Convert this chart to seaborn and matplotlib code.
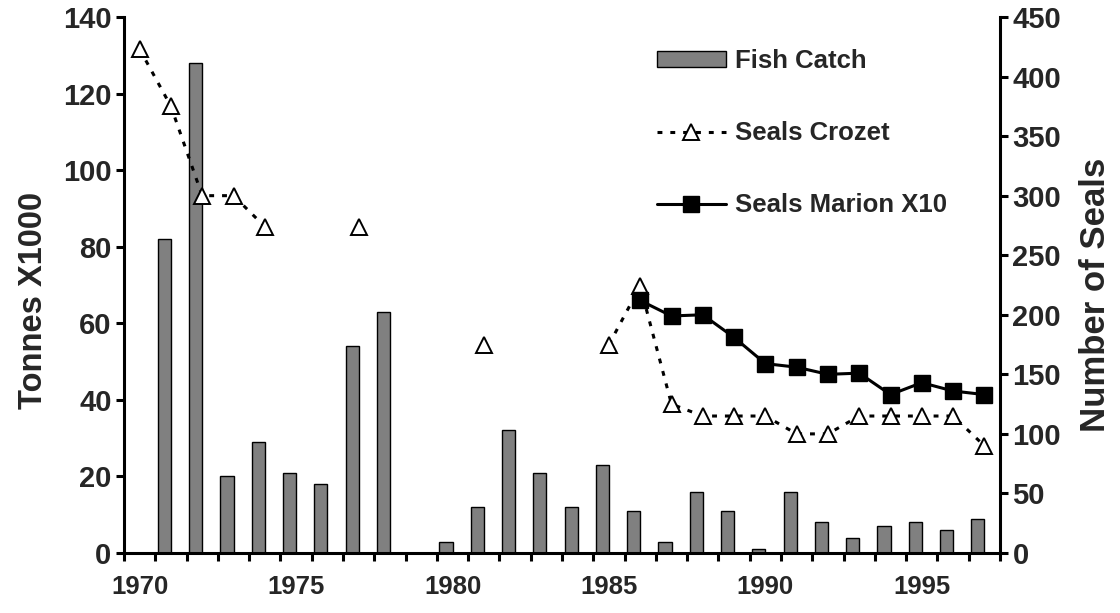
import numpy as np
import pandas as pd
import matplotlib
matplotlib.use("Agg")
import matplotlib.pyplot as plt
import seaborn as sns
from matplotlib.patches import Patch
from matplotlib.lines import Line2D

nan = np.nan

# ---- data ----
years = list(range(1970, 1998))
fish_catch = [nan, 82, 128, 20, 29, 21, 18, 54, 63, nan, 3, 12, 32, 21, 12, 23,
              11, 3, 16, 11, 1, 16, 8, 4, 7, 8, 6, 9]
seals_crozet = [423, 375, 300, 300, 274, nan, nan, 274, nan, nan, nan, 175, nan, nan,
                nan, 175, 224, 125, 115, 115, 115, 100, 100, 115, 115, 115, 115, 90]
seals_marion_x10 = [nan] * 16 + [212, 199, 200, 181, 159, 156, 150, 151, 133, 143, 136, 133]
label_years = [1970, 1975, 1980, 1985, 1990, 1995]

sns.set_theme(style="white")
plt.rcParams["font.family"] = ["Liberation Sans", "DejaVu Sans"]
plt.rcParams["font.weight"] = "bold"

fig = plt.figure(figsize=(11.2, 6.13), dpi=100)
ax = fig.add_axes([124 / 1120, 60 / 613, 876 / 1120, 536 / 613])
ax2 = ax.twinx()

xtick_fs = 18.5
ytick_fs = 21
leg_fs = 18.5

# ---- bars (left axis) ----
bar_df = pd.DataFrame({"year": years, "catch": fish_catch}).dropna()
bar_w = 0.42
sns.barplot(data=bar_df, x="year", y="catch", native_scale=True, width=bar_w,
            color="#808080", saturation=1, edgecolor="black", linewidth=1.0,
            errorbar=None, ax=ax)
for p in ax.patches:
    p.set_x(p.get_x() - bar_w / 2)

# ---- lines (right axis) ----
dash = (0, (1.6, 2.6))
cro = pd.DataFrame({"year": years, "v": seals_crozet})
cro["seg"] = cro["v"].isna().cumsum()
cro = cro.dropna()
sns.lineplot(data=cro, x="year", y="v", units="seg", estimator=None, sort=False,
             color="black", linewidth=2.2, linestyle=dash, marker="^",
             markersize=12, markerfacecolor="white", markeredgecolor="black",
             markeredgewidth=1.4, legend=False, ax=ax2)
mar = pd.DataFrame({"year": years, "v": seals_marion_x10}).dropna()
sns.lineplot(data=mar, x="year", y="v", estimator=None, sort=False,
             color="black", linewidth=2.2, marker="s", markersize=11,
             markerfacecolor="black", markeredgecolor="black",
             markeredgewidth=1, legend=False, ax=ax2)

# ---- axes styling ----
ax.set_xlim(1969.5, 1997.5)
ax.set_ylim(0, 140)
ax2.set_ylim(0, 450)
ax.set_yticks(range(0, 141, 20))
ax2.set_yticks(range(0, 451, 50))
ax.set_xticks(label_years)
ax.set_xticks(np.arange(1969.5, 1998, 1), minor=True)
ax.set_xticklabels([str(y) for y in label_years])

for a in (ax, ax2):
    a.grid(False)
    a.spines["top"].set_visible(False)
    for s in a.spines.values():
        s.set_color("black")
        s.set_linewidth(2.2)
ax.spines["right"].set_visible(False)
ax2.spines["left"].set_visible(False)
ax2.spines["bottom"].set_visible(False)

ax.tick_params(axis="y", which="major", direction="out", length=6, width=2.2,
               labelsize=ytick_fs, pad=3, color="black", left=True)
ax.tick_params(axis="x", which="major", length=0, labelsize=xtick_fs, pad=16)
ax.tick_params(axis="x", which="minor", direction="out", length=6, width=2.2,
               color="black", bottom=True)
ax2.tick_params(axis="y", which="major", direction="out", length=6, width=2.2,
                labelsize=ytick_fs, pad=3, color="black", right=True)
for lab in ax.get_xticklabels() + ax.get_yticklabels() + ax2.get_yticklabels():
    lab.set_fontweight("bold")

ax.set_xlabel("")
ax.set_ylabel("Tonnes X1000", fontsize=23.5, fontweight="bold", labelpad=10)
ax2.set_ylabel("Number of Seals", fontsize=25, fontweight="bold", labelpad=13)
ax.yaxis.label.set_y(0.472)
ax2.yaxis.label.set_y(0.481)

# ---- legend ----
handles = [
    Patch(facecolor="#808080", edgecolor="black", linewidth=1.0, label="Fish Catch"),
    Line2D([], [], color="black", linewidth=2.2, linestyle=dash, marker="^",
           markersize=12, markerfacecolor="white", markeredgecolor="black",
           markeredgewidth=1.4, label="Seals Crozet"),
    Line2D([], [], color="black", linewidth=2.2, marker="s", markersize=11,
           markerfacecolor="black", markeredgecolor="black", label="Seals Marion X10"),
]
leg = ax2.legend(handles=handles, loc="upper left", bbox_to_anchor=(0.608, 0.94),
                 frameon=False, borderpad=0, borderaxespad=0, handlelength=2.7,
                 handleheight=0.62, handletextpad=0.35, labelspacing=1.87,
                 prop={"size": leg_fs, "weight": "bold"})

fig.savefig("out.png", dpi=100, facecolor="white")
